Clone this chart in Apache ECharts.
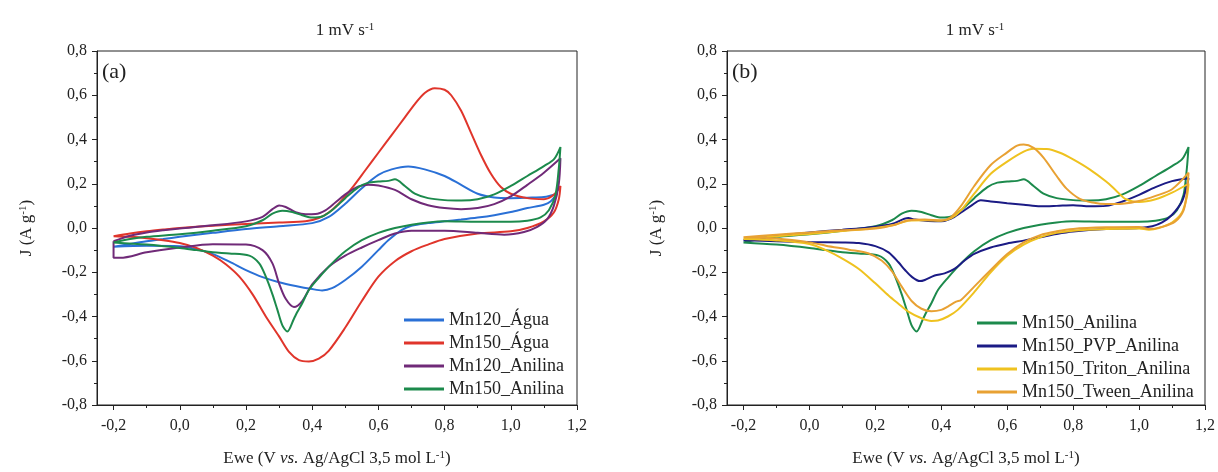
<!DOCTYPE html>
<html>
<head>
<meta charset="utf-8">
<script src="https://cdn.jsdelivr.net/npm/echarts@6/dist/echarts.min.js"></script>
<style>
  html, body { margin: 0; padding: 0; background: #fff; }
  #main { width: 1218px; height: 472px; }
</style>
</head>
<body>
<div id="main"></div>
<script>
// eixo x: rótulos e ticks menores
var xMajor = [-0.2, 0, 0.2, 0.4, 0.6, 0.8, 1.0, 1.2];
var xMinor = [-0.1, 0.1, 0.3, 0.5, 0.7, 0.9, 1.1];

// (a) Mn120_Água  - varredura anódica / catódica
var mn120AguaUp = [[-0.2,-0.085],[-0.15,-0.072],[-0.1,-0.06],[-0.05,-0.05],[0.0,-0.04],[0.1,-0.022],[0.2,-0.005],[0.3,0.008],[0.4,0.022],[0.45,0.05],[0.5,0.11],[0.55,0.18],[0.6,0.24],[0.64,0.265],[0.69,0.278],[0.74,0.265],[0.8,0.235],[0.85,0.195],[0.9,0.155],[0.95,0.138],[1.0,0.135],[1.05,0.137],[1.1,0.14],[1.14,0.155]];
var mn120AguaDown = [[1.14,0.155],[1.12,0.12],[1.1,0.105],[1.05,0.09],[1.0,0.072],[0.95,0.058],[0.9,0.047],[0.85,0.038],[0.8,0.03],[0.75,0.022],[0.7,0.01],[0.67,-0.01],[0.63,-0.055],[0.6,-0.1],[0.55,-0.175],[0.5,-0.235],[0.46,-0.272],[0.43,-0.282],[0.4,-0.276],[0.35,-0.262],[0.3,-0.245],[0.25,-0.222],[0.2,-0.19],[0.15,-0.152],[0.1,-0.118],[0.05,-0.095],[0.0,-0.082],[-0.1,-0.08],[-0.2,-0.085]];

// (a) Mn150_Água
var mn150AguaUp = [[-0.2,-0.037],[-0.15,-0.025],[-0.1,-0.015],[-0.05,-0.007],[0.0,0.0],[0.1,0.01],[0.2,0.018],[0.3,0.025],[0.38,0.03],[0.42,0.045],[0.45,0.07],[0.48,0.11],[0.52,0.18],[0.56,0.26],[0.6,0.34],[0.64,0.42],[0.68,0.5],[0.71,0.56],[0.74,0.61],[0.77,0.632],[0.8,0.625],[0.82,0.6],[0.85,0.53],[0.88,0.43],[0.91,0.33],[0.94,0.245],[0.97,0.185],[1.0,0.155],[1.05,0.135],[1.1,0.13],[1.13,0.15],[1.15,0.19]];
var mn150AguaDown = [[1.15,0.19],[1.145,0.13],[1.13,0.07],[1.1,0.03],[1.05,0.0],[1.0,-0.015],[0.9,-0.025],[0.8,-0.05],[0.75,-0.075],[0.7,-0.105],[0.65,-0.15],[0.6,-0.22],[0.55,-0.33],[0.5,-0.45],[0.45,-0.555],[0.42,-0.59],[0.39,-0.603],[0.36,-0.597],[0.33,-0.56],[0.3,-0.49],[0.26,-0.4],[0.22,-0.3],[0.18,-0.22],[0.14,-0.165],[0.1,-0.125],[0.05,-0.09],[0.0,-0.068],[-0.05,-0.055],[-0.1,-0.046],[-0.15,-0.04],[-0.2,-0.037]];

// (a) Mn120_Anilina
var mn120AnilUp = [[-0.2,-0.06],[-0.15,-0.035],[-0.1,-0.02],[-0.05,-0.01],[0.0,-0.002],[0.1,0.012],[0.2,0.03],[0.25,0.05],[0.28,0.085],[0.3,0.102],[0.32,0.095],[0.35,0.072],[0.38,0.062],[0.41,0.063],[0.44,0.08],[0.47,0.115],[0.5,0.152],[0.54,0.188],[0.57,0.196],[0.6,0.192],[0.65,0.172],[0.7,0.13],[0.75,0.103],[0.8,0.09],[0.85,0.085],[0.9,0.09],[0.95,0.108],[1.0,0.143],[1.05,0.195],[1.1,0.25],[1.15,0.315]];
var mn120AnilDown = [[1.15,0.315],[1.145,0.2],[1.13,0.1],[1.11,0.04],[1.08,0.005],[1.04,-0.018],[0.98,-0.03],[0.9,-0.022],[0.8,-0.012],[0.7,-0.012],[0.65,-0.025],[0.6,-0.055],[0.55,-0.088],[0.5,-0.125],[0.45,-0.175],[0.4,-0.255],[0.37,-0.33],[0.345,-0.357],[0.32,-0.32],[0.3,-0.25],[0.28,-0.16],[0.25,-0.1],[0.2,-0.075],[0.1,-0.073],[0.0,-0.088],[-0.1,-0.11],[-0.18,-0.135],[-0.2,-0.135],[-0.2,-0.06]];

// (a) e (b) Mn150_Anilina
var mn150AnilUp = [[-0.2,-0.065],[-0.15,-0.05],[-0.1,-0.04],[0.0,-0.028],[0.1,-0.012],[0.2,0.008],[0.25,0.035],[0.28,0.065],[0.31,0.078],[0.34,0.072],[0.37,0.058],[0.4,0.047],[0.43,0.052],[0.46,0.08],[0.5,0.135],[0.54,0.185],[0.57,0.205],[0.6,0.21],[0.63,0.213],[0.65,0.22],[0.68,0.19],[0.71,0.155],[0.75,0.135],[0.8,0.126],[0.85,0.124],[0.9,0.13],[0.95,0.152],[1.0,0.19],[1.05,0.235],[1.1,0.28],[1.13,0.31],[1.15,0.366]];
var mn150AnilDown = [[1.15,0.366],[1.145,0.27],[1.135,0.15],[1.115,0.08],[1.09,0.048],[1.05,0.033],[1.0,0.028],[0.9,0.028],[0.8,0.03],[0.75,0.025],[0.7,0.015],[0.65,0.0],[0.6,-0.022],[0.55,-0.055],[0.5,-0.105],[0.46,-0.16],[0.42,-0.225],[0.39,-0.28],[0.37,-0.34],[0.355,-0.38],[0.345,-0.41],[0.325,-0.468],[0.31,-0.44],[0.295,-0.37],[0.28,-0.3],[0.26,-0.22],[0.24,-0.16],[0.21,-0.125],[0.15,-0.115],[0.1,-0.11],[0.05,-0.1],[0.0,-0.09],[-0.1,-0.075],[-0.2,-0.065]];

// (b) Mn150_PVP_Anilina
var pvpUp = [[-0.2,-0.055],[-0.1,-0.035],[0.0,-0.02],[0.1,-0.008],[0.2,0.006],[0.25,0.018],[0.3,0.045],[0.32,0.038],[0.36,0.032],[0.4,0.03],[0.43,0.042],[0.46,0.07],[0.49,0.1],[0.52,0.125],[0.55,0.12],[0.6,0.112],[0.65,0.105],[0.7,0.098],[0.75,0.1],[0.8,0.103],[0.85,0.098],[0.9,0.1],[0.95,0.12],[1.0,0.15],[1.05,0.185],[1.1,0.212],[1.15,0.225]];
var pvpDown = [[1.15,0.225],[1.145,0.19],[1.13,0.12],[1.1,0.06],[1.07,0.025],[1.04,0.008],[1.0,0.0],[0.9,-0.005],[0.8,-0.016],[0.75,-0.027],[0.7,-0.042],[0.65,-0.057],[0.6,-0.07],[0.55,-0.088],[0.5,-0.117],[0.47,-0.148],[0.44,-0.185],[0.41,-0.205],[0.38,-0.215],[0.35,-0.235],[0.335,-0.24],[0.31,-0.22],[0.29,-0.19],[0.27,-0.155],[0.24,-0.11],[0.2,-0.082],[0.15,-0.068],[0.1,-0.065],[0.0,-0.063],[-0.1,-0.06],[-0.2,-0.055]];

// (b) Mn150_Triton_Anilina
var tritonUp = [[-0.2,-0.05],[-0.1,-0.037],[0.0,-0.027],[0.1,-0.014],[0.2,0.0],[0.26,0.015],[0.3,0.033],[0.35,0.035],[0.4,0.033],[0.43,0.045],[0.46,0.08],[0.5,0.155],[0.55,0.245],[0.6,0.3],[0.65,0.345],[0.68,0.358],[0.72,0.357],[0.76,0.34],[0.8,0.31],[0.85,0.265],[0.9,0.21],[0.93,0.17],[0.96,0.13],[1.0,0.118],[1.05,0.13],[1.1,0.16],[1.15,0.2]];
var tritonDown = [[1.15,0.2],[1.145,0.14],[1.13,0.07],[1.1,0.025],[1.06,0.0],[1.03,-0.008],[1.0,-0.002],[0.9,-0.005],[0.8,-0.012],[0.75,-0.022],[0.7,-0.042],[0.65,-0.075],[0.6,-0.125],[0.55,-0.2],[0.5,-0.29],[0.45,-0.37],[0.42,-0.4],[0.39,-0.418],[0.37,-0.42],[0.34,-0.408],[0.3,-0.378],[0.27,-0.342],[0.24,-0.305],[0.2,-0.25],[0.15,-0.185],[0.1,-0.138],[0.05,-0.1],[0.0,-0.072],[-0.1,-0.056],[-0.2,-0.05]];

// (b) Mn150_Tween_Anilina
var tweenUp = [[-0.2,-0.042],[-0.1,-0.03],[0.0,-0.02],[0.1,-0.01],[0.2,-0.002],[0.26,0.015],[0.3,0.035],[0.35,0.038],[0.4,0.035],[0.43,0.05],[0.46,0.1],[0.5,0.19],[0.55,0.285],[0.6,0.342],[0.63,0.372],[0.65,0.377],[0.68,0.362],[0.71,0.318],[0.75,0.235],[0.78,0.178],[0.82,0.132],[0.86,0.115],[0.9,0.108],[0.95,0.11],[1.0,0.122],[1.05,0.145],[1.1,0.175],[1.15,0.25]];
var tweenDown = [[1.15,0.25],[1.145,0.16],[1.135,0.08],[1.11,0.03],[1.07,0.005],[1.03,-0.005],[1.0,0.005],[0.9,0.003],[0.8,-0.004],[0.75,-0.015],[0.7,-0.032],[0.65,-0.065],[0.6,-0.118],[0.55,-0.19],[0.5,-0.265],[0.46,-0.325],[0.445,-0.333],[0.42,-0.355],[0.4,-0.37],[0.37,-0.376],[0.34,-0.365],[0.31,-0.33],[0.28,-0.265],[0.25,-0.195],[0.22,-0.148],[0.18,-0.115],[0.12,-0.098],[0.05,-0.08],[0.0,-0.065],[-0.1,-0.048],[-0.2,-0.042]];

var serif = 'Liberation Serif';
var ink = '#222';

function loop(up, down) {
    return up.concat(down.slice(1));
}
function fmt(v) {
    return v.toFixed(1).replace('.', ',').replace('-0,0', '0,0');
}

var grids = [
    {left: 97, top: 51, width: 480, height: 356},
    {left: 727, top: 51, width: 479, height: 356}
];

function majorX(i) {
    return {
        type: 'value', gridIndex: i, min: -0.25, max: 1.2, position: 'bottom',
        name: 'Ewe (V {it|vs.} Ag/AgCl 3,5 mol L{sup|-1})',
        nameLocation: 'middle', nameGap: 45,
        nameTextStyle: {
            fontFamily: serif, fontSize: 17, color: ink,
            rich: {
                it: {fontFamily: serif, fontSize: 17, fontStyle: 'italic', color: ink},
                sup: {fontFamily: serif, fontSize: 11, color: ink, verticalAlign: 'top', lineHeight: 10}
            }
        },
        axisLine: {show: true, onZero: false, lineStyle: {color: ink, width: 1}},
        axisTick: {show: true, length: 5, customValues: xMajor, lineStyle: {color: ink}},
        axisLabel: {customValues: xMajor, fontFamily: serif, fontSize: 16, color: ink, margin: 13, formatter: fmt},
        splitLine: {show: false}
    };
}
function minorX(i) {
    return {
        type: 'value', gridIndex: i, min: -0.25, max: 1.2, position: 'bottom',
        axisLine: {show: false, onZero: false},
        axisTick: {show: true, length: 3, customValues: xMinor, lineStyle: {color: ink}},
        axisLabel: {show: false},
        splitLine: {show: false}
    };
}
function yAx(i) {
    return {
        type: 'value', gridIndex: i, min: -0.8, max: 0.8, interval: 0.2,
        name: 'J (A g{sup|-1})',
        nameLocation: 'middle', nameGap: 62,
        nameTextStyle: {
            fontFamily: serif, fontSize: 17, color: ink,
            rich: {sup: {fontFamily: serif, fontSize: 11, color: ink, verticalAlign: 'top', lineHeight: 10}}
        },
        axisLine: {show: true, onZero: false, lineStyle: {color: ink, width: 1}},
        axisTick: {show: true, length: 5, lineStyle: {color: ink}},
        minorTick: {show: true, splitNumber: 2, length: 3, lineStyle: {color: ink}},
        axisLabel: {fontFamily: serif, fontSize: 16, color: ink, margin: 10, formatter: fmt},
        splitLine: {show: false}
    };
}
function curve(name, data, color, g) {
    return {
        name: name, type: 'line', data: data,
        xAxisIndex: g * 2, yAxisIndex: g,
        symbol: 'none', smooth: 0.3,
        lineStyle: {color: color, width: 2},
        itemStyle: {color: color},
        z: 3
    };
}
function panelTitle(x) {
    return {
        text: '1 mV s{sup|-1}', left: x, top: 17, textAlign: 'center',
        textStyle: {
            fontFamily: serif, fontSize: 17, fontWeight: 'normal', color: ink,
            rich: {sup: {fontFamily: serif, fontSize: 11, color: ink, verticalAlign: 'top', lineHeight: 10}}
        }
    };
}
function legendBox(x, y, names) {
    return {
        data: names, orient: 'vertical', left: x, top: y, padding: 0,
        icon: 'rect', itemWidth: 40, itemHeight: 3, itemGap: 5,
        textStyle: {fontFamily: serif, fontSize: 18, color: ink}
    };
}

var myChart = echarts.init(document.getElementById('main'), null, {renderer: 'canvas'});

var option = {
    backgroundColor: '#fff',
    animation: false,
    title: [panelTitle(340), panelTitle(970)],
    grid: grids.map(function (g) {
        return Object.assign({show: true, borderColor: ink, borderWidth: 1, backgroundColor: 'transparent'}, g);
    }),
    xAxis: [majorX(0), minorX(0), majorX(1), minorX(1)],
    yAxis: [yAx(0), yAx(1)],
    legend: [
        legendBox(404, 311, ['Mn120_Água', 'Mn150_Água', 'Mn120_Anilina', 'Mn150_Anilina']),
        legendBox(977, 314, ['Mn150_Anilina', 'Mn150_PVP_Anilina', 'Mn150_Triton_Anilina', 'Mn150_Tween_Anilina'])
    ],
    graphic: [
        {type: 'text', left: 102, top: 61, style: {text: '(a)', font: '22px "Liberation Serif"', fill: ink}},
        {type: 'text', left: 732, top: 61, style: {text: '(b)', font: '22px "Liberation Serif"', fill: ink}}
    ],
    series: [
        curve('Mn120_Água', loop(mn120AguaUp, mn120AguaDown), '#2a70d6', 0),
        curve('Mn150_Água', loop(mn150AguaUp, mn150AguaDown), '#e0352b', 0),
        curve('Mn120_Anilina', loop(mn120AnilUp, mn120AnilDown), '#702a78', 0),
        curve('Mn150_Anilina', loop(mn150AnilUp, mn150AnilDown), '#1c8a4c', 0),
        curve('Mn150_Anilina', loop(mn150AnilUp, mn150AnilDown), '#1c8a4c', 1),
        curve('Mn150_PVP_Anilina', loop(pvpUp, pvpDown), '#1b1b85', 1),
        curve('Mn150_Triton_Anilina', loop(tritonUp, tritonDown), '#efc21f', 1),
        curve('Mn150_Tween_Anilina', loop(tweenUp, tweenDown), '#e8a133', 1)
    ]
};

myChart.setOption(option);
</script>
</body>
</html>
